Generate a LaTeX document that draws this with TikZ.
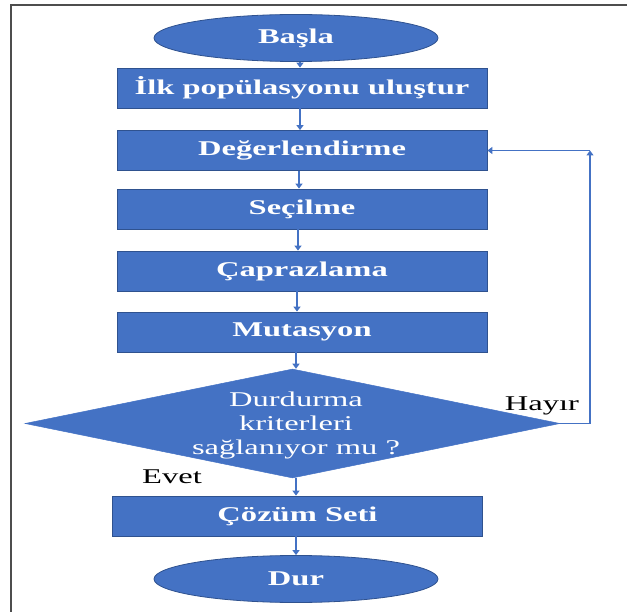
\documentclass[tikz,border=0pt]{standalone}
\usepackage{fontspec}
\setmainfont{Liberation Serif}
\usepackage{graphicx}
\usetikzlibrary{shapes.geometric,arrows.meta}
\definecolor{boxblue}{HTML}{4472C4}
\definecolor{boxedge}{HTML}{2F528F}
\definecolor{framegray}{HTML}{4D4D4D}
% glyphs are set wide, as in the original figure
\newcommand{\wide}[1]{\scalebox{1.55}[1]{#1}}
\tikzset{
  stepbox/.style={rectangle, fill=boxblue, draw=boxedge, line width=0.8pt,
    minimum width=370pt, minimum height=40pt, inner sep=0pt,
    text=white, font=\fontsize{21}{24}\selectfont\bfseries},
  terminal/.style={ellipse, fill=boxblue, draw=boxedge, line width=0.8pt,
    minimum width=284pt, minimum height=47pt, inner sep=0pt,
    text=white, font=\fontsize{21}{24}\selectfont\bfseries},
  decision/.style={diamond, fill=boxblue, draw=boxblue, line width=0.5pt,
    minimum width=535pt, minimum height=109pt, inner sep=0pt},
  dectext/.style={text=white, font=\fontsize{21}{24}\selectfont, align=center, inner sep=0pt},
  tag/.style={text=black, font=\fontsize{21}{24}\selectfont, inner sep=0pt},
  flow/.style={draw=boxblue, line width=1.3pt,
    -{Triangle[length=5pt,width=7pt]}},
  link/.style={draw=boxblue, line width=1.3pt}
}
\begin{document}
\begin{tikzpicture}[x=1pt,y=-1pt]
\useasboundingbox (0,0) rectangle (627,612);
% page frame
\draw[framegray, line width=2pt] (11,612) -- (11,5) -- (627,5);

\node[terminal] (start) at (296,38) {\wide{Başla}};
\node[stepbox] (init) at (302,88) {\wide{İlk popülasyonu uluştur}};
\node[stepbox] (eval) at (302,150.5) {\wide{Değerlendirme}};
\node[stepbox] (sel) at (302,209) {\wide{Seçilme}};
\node[stepbox] (cross) at (302,271) {\wide{Çaprazlama}};
\node[stepbox] (mut) at (302,332) {\wide{Mutasyon}};
\node[decision] (dec) at (292.5,423.5) {};
\node[dectext] (q) at (296,425) {\wide{Durdurma}\\[0pt]\wide{kriterleri}\\[0pt]\wide{sağlanıyor mu ?}};
\node[stepbox] (sol) at (297.5,516) {\wide{Çözüm Seti}};
\node[terminal] (stop) at (296,579) {\wide{Dur}};

\node[tag] (yes) at (172,477) {\wide{Evet}};
\node[tag] (no) at (542,406) {\wide{Hayır}};

\coordinate (rail) at (590,0);

\draw[flow] (start.south -| 300,0) -- (init.north -| 300,0);
\draw[flow] (init.south -| 300,0) -- (eval.north -| 300,0);
\draw[flow] (eval.south -| 299,0) -- (sel.north -| 299,0);
\draw[flow] (sel.south -| 298,0) -- (cross.north -| 298,0);
\draw[flow] (cross.south -| 297,0) -- (mut.north -| 297,0);
\draw[flow] (mut.south -| 296,0) -- (dec.north -| 296,0);
\draw[flow] (dec.south -| 296,0) -- (sol.north -| 296,0);
\draw[flow] (sol.south -| 296,0) -- (stop.north -| 296,0);

% loop back when the criteria are not met
\draw[flow] (dec.east) -| (eval.east -| rail);
\draw[flow] (eval.east -| rail) -- (eval.east);
\end{tikzpicture}
\end{document}
